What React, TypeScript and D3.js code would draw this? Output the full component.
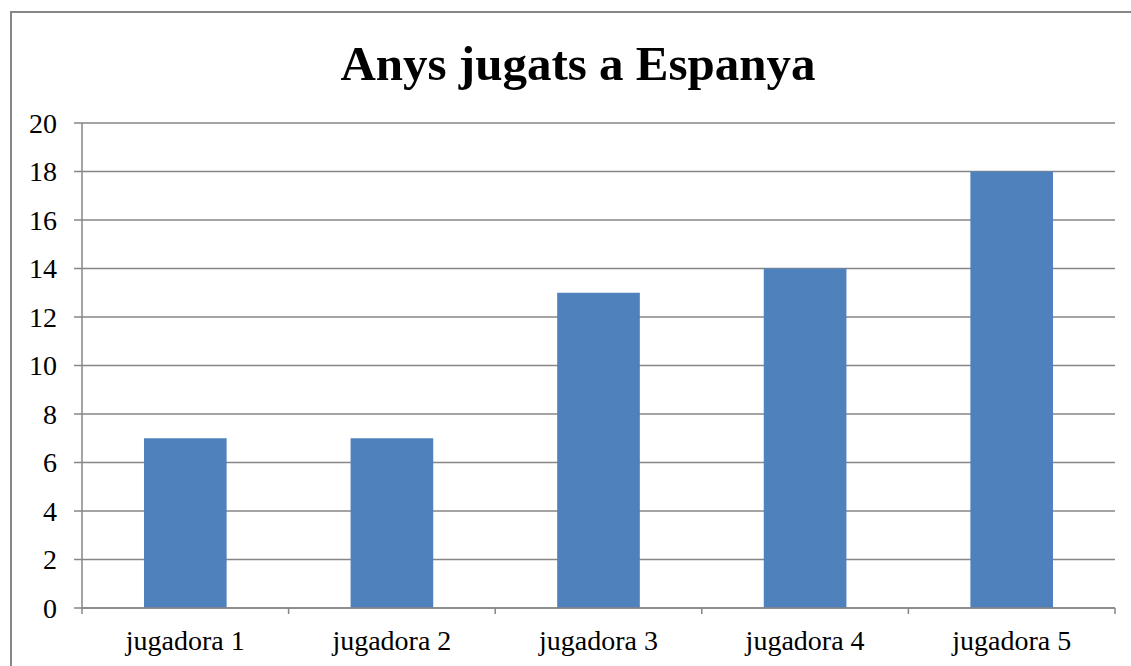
import React from "react";
import * as d3 from "d3";

const categories: string[] = ["jugadora 1", "jugadora 2", "jugadora 3", "jugadora 4", "jugadora 5"];
const values: number[] = [7, 7, 13, 14, 18];
const yTicks: number[] = [0, 2, 4, 6, 8, 10, 12, 14, 16, 18, 20];
const title = "Anys jugats a Espanya";

export default function App() {
  const W = 1131;
  const H = 666;
  const left = 82;
  const right = 1115;
  const top = 123;
  const bottom = 608;
  const x = d3.scaleBand<string>().domain(categories).range([left, right]).paddingInner(0.6).paddingOuter(0.3);
  const y = d3.scaleLinear().domain([0, 20]).range([bottom, top]);
  const step = (right - left) / categories.length;
  const font = "'Liberation Serif', 'Times New Roman', serif";
  const grid = "#868686";
  return (
    <svg width={W} height={H} style={{ position: "absolute", left: 0, top: 0, background: "#fff" }}>
      <rect x={11} y={12} width={1134} height={700} fill="#fff" stroke="#878787" strokeWidth={2} />
      <text x={578} y={80} textAnchor="middle" fontFamily={font} fontWeight="bold" fontSize={49} fill="#000">
        {title}
      </text>
      {yTicks.map((t) => (
        <g key={t}>
          <line x1={74} x2={right} y1={y(t)} y2={y(t)} stroke={grid} strokeWidth={1.5} />
          <text x={57} y={y(t)} dy="0.34em" textAnchor="end" fontFamily={font} fontSize={28} fill="#000">
            {t}
          </text>
        </g>
      ))}
      <line x1={left} x2={left} y1={top} y2={bottom} stroke={grid} strokeWidth={1.5} />
      {categories.map((c, i) => (
        <line key={"t" + i} x1={left + step * i} x2={left + step * i} y1={bottom} y2={bottom + 6} stroke={grid} strokeWidth={1.5} />
      ))}
      <line x1={right} x2={right} y1={bottom} y2={bottom + 6} stroke={grid} strokeWidth={1.5} />
      {categories.map((c, i) => (
        <rect key={c} x={x(c)} y={y(values[i])} width={x.bandwidth()} height={bottom - y(values[i])} fill="#4F81BD" />
      ))}
      <line x1={left} x2={right} y1={bottom} y2={bottom} stroke={grid} strokeWidth={1.5} />
      {categories.map((c) => (
        <text key={"l" + c} x={(x(c) as number) + x.bandwidth() / 2} y={650} textAnchor="middle" fontFamily={font} fontSize={28} fill="#000">
          {c}
        </text>
      ))}
    </svg>
  );
}
